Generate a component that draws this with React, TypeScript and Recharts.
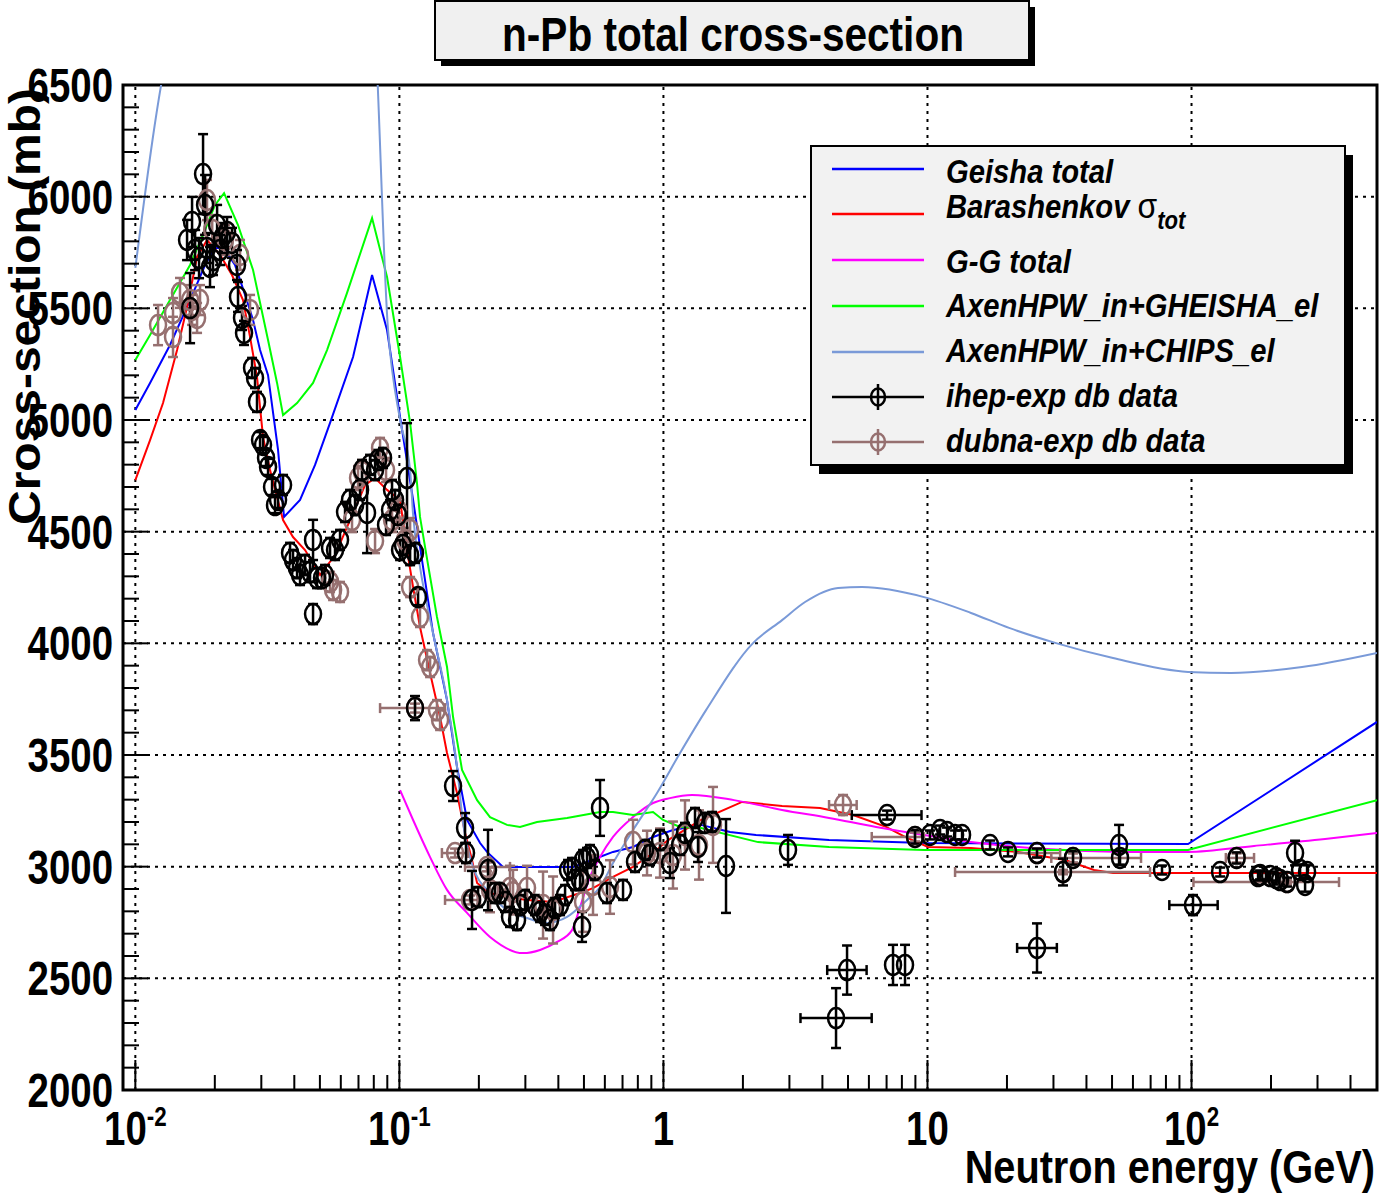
import React from 'react';
import {
  ComposedChart,
  Line,
  Scatter,
  XAxis,
  YAxis,
  ReferenceLine,
  ReferenceArea,
  ErrorBar,
} from 'recharts';

const FONT = "'Liberation Sans', Arial, Helvetica, sans-serif";

// ---------- axes ----------
const X_MIN = 0.00898;
const X_MAX = 504;
const Y_MIN = 2000;
const Y_MAX = 6500;

const xMajorTicks = [0.01, 0.1, 1, 10, 100];
const xTickLabels = [
  { base: '10', sup: '-2' },
  { base: '10', sup: '-1' },
  { base: '1', sup: '' },
  { base: '10', sup: '' },
  { base: '10', sup: '2' },
];
const xMinorTicks = [
  0.02, 0.03, 0.04, 0.05, 0.06, 0.07, 0.08, 0.09,
  0.2, 0.3, 0.4, 0.5, 0.6, 0.7, 0.8, 0.9,
  2, 3, 4, 5, 6, 7, 8, 9,
  20, 30, 40, 50, 60, 70, 80, 90,
  200, 300, 400,
];
const yMajorTicks = [2000, 2500, 3000, 3500, 4000, 4500, 5000, 5500, 6000, 6500];
const yMinorTicks = [
  2100, 2200, 2300, 2400, 2600, 2700, 2800, 2900, 3100, 3200, 3300, 3400,
  3600, 3700, 3800, 3900, 4100, 4200, 4300, 4400, 4600, 4700, 4800, 4900,
  5100, 5200, 5300, 5400, 5600, 5700, 5800, 5900, 6100, 6200, 6300, 6400,
];
const xGridValues = [0.01, 0.1, 1, 10, 100];
const yGridValues = [2500, 3000, 3500, 4000, 4500, 5000, 5500, 6000];

// ---------- model curves [E (GeV), sigma (mb)] ----------
const geishaTotal: number[][] = [
  [0.01, 5045], [0.01137, 5166], [0.01353, 5336], [0.01612, 5537], [0.01837, 5694],
  [0.02004, 5775], [0.02186, 5761], [0.02385, 5694], [0.02603, 5560], [0.02791, 5448],
  [0.02967, 5313], [0.03181, 5201], [0.03471, 4866], [0.03657, 4566], [0.04205, 4642],
  [0.04793, 4799], [0.05463, 4987], [0.06676, 5282], [0.0788, 5649], [0.0898, 5403],
  [0.1006, 5013], [0.1127, 4642], [0.1229, 4342], [0.1341, 4046], [0.1515, 3746],
  [0.1653, 3446], [0.1804, 3209], [0.2021, 3106], [0.2147, 3066], [0.2469, 2999],
  [0.4546, 2999], [0.5136, 3021], [0.5604, 3039], [0.6443, 3066], [0.7671, 3088],
  [0.9133, 3133], [1.087, 3164], [1.388, 3187], [1.787, 3155], [2.242, 3142],
  [4.239, 3119], [9.705, 3106], [97, 3101], [504, 3648],
];

const barashenkov: number[][] = [
  [0.01, 4731], [0.01137, 4910], [0.01273, 5076], [0.01439, 5313], [0.0157, 5506],
  [0.01713, 5730], [0.01868, 5806], [0.02094, 5739], [0.02323, 5649], [0.02557, 5537],
  [0.02719, 5372], [0.02889, 5193], [0.03045, 4924], [0.03237, 4776], [0.03441, 4655],
  [0.03626, 4552], [0.03955, 4476], [0.04393, 4418], [0.05006, 4306], [0.05706, 4395],
  [0.06503, 4552], [0.07413, 4709], [0.08088, 4740], [0.0898, 4687], [0.1006, 4642],
  [0.1069, 4418], [0.1127, 4252], [0.1197, 4073], [0.1307, 3867], [0.1426, 3670],
  [0.1515, 3509], [0.1653, 3330], [0.1773, 3151], [0.1884, 3030], [0.1969, 2927],
  [0.2204, 2882], [0.2556, 2864], [0.3044, 2851], [0.3819, 2842], [0.4833, 2882],
  [0.5412, 2904], [0.6443, 2954], [0.7671, 2999], [0.9133, 3061], [1.041, 3119],
  [1.388, 3209], [1.985, 3290], [2.814, 3272], [3.919, 3263], [5.226, 3231],
  [6.968, 3178], [8.222, 3133], [10.05, 3088], [14.62, 3084], [22.03, 3066],
  [33.19, 3030], [42.74, 2985], [50.44, 2972], [504, 2972],
];

const ggTotal: number[][] = [
  [0.1006, 3343], [0.1127, 3209], [0.1307, 3043], [0.1515, 2896], [0.1804, 2793],
  [0.2204, 2685], [0.294, 2613], [0.341, 2627], [0.3954, 2663], [0.4506, 2716],
  [0.4833, 2819], [0.5272, 2954], [0.5753, 3043], [0.6443, 3133], [0.7671, 3222],
  [0.9133, 3285], [1.059, 3307], [1.283, 3321], [1.851, 3298], [2.814, 3254],
  [4.239, 3218], [6.386, 3178], [9.705, 3142], [14.62, 3110], [22.03, 3088],
  [33.19, 3075], [64.41, 3066], [97, 3066], [172.5, 3093], [320.4, 3124], [504, 3151],
];

const axenGheisha: number[][] = [
  [0.01, 5269], [0.01137, 5381], [0.01353, 5537], [0.01612, 5694], [0.01837, 5851],
  [0.02004, 5963], [0.02168, 6016], [0.02448, 5873], [0.02791, 5672], [0.03181, 5358],
  [0.03441, 5166], [0.03626, 5022], [0.04097, 5076], [0.0471, 5166], [0.05321, 5313],
  [0.06335, 5569], [0.0788, 5904], [0.0898, 5640], [0.1006, 5282], [0.1098, 4987],
  [0.1166, 4718], [0.1197, 4566], [0.1288, 4342], [0.1388, 4118], [0.1515, 3894],
  [0.1597, 3670], [0.1727, 3433], [0.1969, 3298], [0.2204, 3222], [0.2556, 3187],
  [0.2864, 3178], [0.3321, 3200], [0.4315, 3218], [0.5753, 3245], [0.6443, 3245],
  [0.7671, 3231], [0.9133, 3245], [0.9966, 3209], [1.156, 3178], [1.388, 3173],
  [2.282, 3110], [4.239, 3088], [9.705, 3075], [97, 3075], [504, 3298],
];

const axenChips: number[][] = [
  [0.01, 5681], [0.0135, 6700], [0.03, 7600], [0.078, 7000], [0.0906, 5403],
  [0.1006, 5000], [0.1098, 4776], [0.1127, 4575], [0.1197, 4342], [0.1341, 4046],
  [0.1515, 3746], [0.1653, 3446], [0.1742, 3196], [0.1901, 2999], [0.2204, 2882],
  [0.2556, 2806], [0.3044, 2770], [0.3625, 2748], [0.4315, 2775], [0.5136, 2851],
  [0.5753, 2909], [0.6443, 3016], [0.7671, 3164], [0.9458, 3330], [1.156, 3509],
  [1.45, 3701], [2.184, 4001], [2.814, 4104], [3.439, 4185], [4.585, 4248],
  [5.653, 4252], [9.705, 4207], [14.62, 4136], [20.37, 4069], [30.69, 4001],
  [50.44, 3934], [97, 3872], [141.2, 3867], [262.2, 3894], [504, 3957],
];

// ---------- data [E, sigma, sigmaErr, (E err low, E err high)] ----------
const ihepData: number[][] = [
  [0.01612, 5501, 157], [0.0157, 5806, 90], [0.0164, 5887, 112], [0.01805, 6101, 179],
  [0.01837, 5963, 134], [0.01684, 5761, 90], [0.01743, 5725, 90], [0.01918, 5685, 90],
  [0.01868, 5770, 67], [0.0204, 5873, 90], [0.0213, 5815, 67], [0.02225, 5842, 67],
  [0.02323, 5793, 67], [0.02094, 5761, 67], [0.01969, 5716, 67], [0.02427, 5694, 67],
  [0.02448, 5551, 67], [0.02535, 5457, 54], [0.0258, 5390, 54], [0.02767, 5233, 45],
  [0.0284, 5188, 45], [0.02889, 5081, 45], [0.02967, 4910, 36], [0.03045, 4888, 36],
  [0.03126, 4830, 36], [0.03181, 4790, 36], [0.03294, 4700, 36], [0.03381, 4619, 36],
  [0.03626, 4709, 45], [0.03471, 4642, 36], [0.03854, 4405, 45], [0.03955, 4373, 45],
  [0.04097, 4337, 45], [0.04205, 4306, 45], [0.04393, 4351, 45], [0.04588, 4319, 45],
  [0.0471, 4463, 90], [0.0471, 4131, 45], [0.04877, 4292, 45], [0.05093, 4292, 45],
  [0.0523, 4306, 45], [0.05463, 4427, 45], [0.05706, 4418, 45], [0.0596, 4463, 45],
  [0.06226, 4588, 45], [0.06503, 4642, 45], [0.06793, 4619, 45], [0.07096, 4687, 45],
  [0.0722, 4776, 45], [0.07543, 4584, 180], [0.07743, 4799, 45], [0.08088, 4776, 45],
  [0.08302, 4821, 45], [0.08672, 4830, 45], [0.08902, 4530, 45], [0.09218, 4597, 45],
  [0.0938, 4687, 45], [0.09629, 4642, 45], [0.09884, 4575, 45], [0.1006, 4418, 45],
  [0.1032, 4440, 45], [0.1069, 4740, 246], [0.1098, 4395, 45], [0.1146, 4405, 45],
  [0.1177, 4207, 36], [0.1146, 3710, 54], [0.1597, 3361, 67], [0.1773, 3173, 67],
  [0.1788, 3061, 45], [0.1884, 2851, 130], [0.1986, 2864, 45], [0.2166, 2985, 180],
  [0.2302, 2882, 45], [0.2405, 2882, 45], [0.2512, 2842, 45], [0.2624, 2775, 45],
  [0.279, 2761, 45], [0.2864, 2828, 45], [0.2991, 2851, 45], [0.3264, 2828, 45],
  [0.341, 2797, 45], [0.3562, 2784, 45], [0.3721, 2761, 45], [0.3886, 2815, 45],
  [0.4059, 2828, 45], [0.4241, 2873, 45], [0.4352, 2985, 45], [0.4506, 2994, 45],
  [0.4627, 2940, 45], [0.4833, 2940, 45], [0.4961, 3030, 45], [0.5136, 3039, 45],
  [0.5272, 3052, 45], [0.5507, 2985, 45], [0.5753, 3263, 125], [0.4918, 2730, 67],
  [0.6114, 2882, 45], [0.7031, 2896, 45], [0.7806, 3021, 45], [0.8517, 3075, 45],
  [0.8897, 3052, 45], [0.9708, 3119, 45], [1.059, 3016, 67], [1.156, 3097, 45],
  [1.207, 3151, 45], [1.317, 3218, 45], [1.352, 3088, 67], [1.437, 3196, 45],
  [1.528, 3200, 45], [1.726, 3003, 210], [2.964, 3075, 67],
  [4.505, 2322, 134, 1.201, 1.643], [4.959, 2537, 110, 0.788, 0.922],
  [7.405, 2560, 90], [8.222, 2560, 90], [7.03, 3231, 20, 1.862, 2.462],
  [8.97, 3133, 30], [10.22, 3142, 20], [11.16, 3164, 20], [11.86, 3155, 20],
  [12.72, 3142, 20], [13.52, 3142, 20], [17.26, 3097, 20], [20.18, 3066, 20],
  [25.99, 3061, 20], [25.99, 2636, 110, 4.14, 4.91], [32.61, 2976, 60],
  [35.58, 3039, 30], [53.15, 3097, 90], [53.61, 3039, 30], [77.3, 2985, 20],
  [101.3, 2828, 45, 18.9, 24.3], [128.3, 2976, 20], [148.2, 3039, 25],
  [178.6, 2958, 20], [181.8, 2963, 20], [198.4, 2958, 20], [209.1, 2949, 20],
  [216.4, 2940, 20], [230, 2931, 20], [246.7, 3061, 55], [257.7, 2985, 25],
  [269.2, 2918, 30], [273.9, 2976, 30],
];

const dubnaData: number[][] = [
  [0.01219, 5425, 90], [0.01389, 5479, 67], [0.01389, 5372, 90], [0.01476, 5569, 67],
  [0.01612, 5537, 67], [0.0164, 5493, 67], [0.01713, 5457, 67], [0.01758, 5537, 67],
  [0.01868, 5985, 90], [0.01955, 5851, 67], [0.02186, 5806, 67], [0.02492, 5739, 67],
  [0.02719, 5493, 67], [0.05463, 4275, 45], [0.05609, 4239, 45], [0.0596, 4230, 45],
  [0.06617, 4552, 54], [0.06973, 4740, 54], [0.0722, 4767, 54], [0.08088, 4458, 54],
  [0.08449, 4875, 45], [0.08902, 4776, 54], [0.0938, 4552, 54], [0.09884, 4597, 54],
  [0.1051, 4463, 54], [0.1098, 4507, 54], [0.1098, 4252, 45], [0.1197, 4118, 45],
  [0.1273, 3925, 45], [0.1307, 3894, 45], [0.1388, 3701, 45], [0.1426, 3657, 45],
  [0.1146, 3710, 20, 0.0301, 0.0343], [0.1625, 3061, 20, 0.0176, 0.0196],
  [0.1852, 2851, 20, 0.0363, 0.0169], [0.2147, 2999, 20, 0.0374, 0.0477],
  [0.2204, 2896, 100], [0.2624, 2904, 100], [0.2694, 2886, 100], [0.3044, 2904, 100],
  [0.35, 2828, 150], [0.3819, 2806, 150], [0.4961, 2842, 134], [0.5412, 2918, 134],
  [0.6277, 2909, 120], [0.7671, 3110, 100], [0.8667, 3061, 100], [0.9708, 3061, 110],
  [1.087, 3052, 150], [1.207, 3142, 155], [1.364, 3097, 155], [1.541, 3187, 170],
  [4.789, 3276, 45, 0.55, 0.604], [8.97, 3133, 20, 2.82, 0.735],
  [25.99, 3061, 20, 4.59, 5.81], [35.58, 3039, 20, 6.14, 28.8],
  [32.61, 2976, 10, 19.89, 37.04], [230, 2931, 10, 128.3, 131.9],
  [148.2, 3039, 20, 13.3, 24.3],
];

// ---------- styles ----------
const C_GEISHA = '#0000ff';
const C_BARASH = '#ff0000';
const C_GG = '#ff00ff';
const C_AXG = '#00ff00';
const C_AXC = '#7a9ad8';
const C_IHEP = '#000000';
const C_DUBNA = '#967070';

const toCurve = (arr: number[][]) => arr.map(([x, y]) => ({ x, y }));
const toPoints = (arr: number[][]) =>
  arr.map((r) => ({
    x: r[0],
    y: r[1],
    ey: r[2],
    ex: r.length > 3 ? [r[3], r[4]] : undefined,
  }));

const curves = [
  { name: 'Geisha total', data: toCurve(geishaTotal), color: C_GEISHA, type: 'linear' },
  { name: 'Barashenkov', data: toCurve(barashenkov), color: C_BARASH, type: 'linear' },
  { name: 'G-G total', data: toCurve(ggTotal), color: C_GG, type: 'monotone' },
  { name: 'AxenHPW_in+GHEISHA_el', data: toCurve(axenGheisha), color: C_AXG, type: 'linear' },
  { name: 'AxenHPW_in+CHIPS_el', data: toCurve(axenChips), color: C_AXC, type: 'monotone' },
];

const ihepPoints = toPoints(ihepData);
const dubnaPoints = toPoints(dubnaData);

const isMajorX = (v: number) => xMajorTicks.findIndex((m) => Math.abs(m - v) / m < 1e-6);

function XTick(props: any) {
  const { x, y, payload } = props;
  const idx = isMajorX(payload.value);
  const major = idx >= 0;
  return (
    <g>
      <line x1={x} x2={x} y1={y} y2={y - (major ? 30 : 15)} stroke="#000" strokeWidth={2} />
      {major && (
        <g transform={`translate(${x},${y + 55}) scale(0.8,1)`}>
          <text textAnchor="middle" fontFamily={FONT} fontWeight="bold" fontSize={48} fill="#000">
            <tspan>{xTickLabels[idx].base}</tspan>
            {xTickLabels[idx].sup ? (
              <tspan fontSize={28} dy={-19}>
                {xTickLabels[idx].sup}
              </tspan>
            ) : null}
          </text>
        </g>
      )}
    </g>
  );
}

function YTick(props: any) {
  const { x, y, payload } = props;
  const v = payload.value;
  const major = yMajorTicks.indexOf(v) >= 0;
  return (
    <g>
      <line x1={x} x2={x + (major ? 25 : 16)} y1={y} y2={y} stroke="#000" strokeWidth={2} />
      {major && (
        <g transform={`translate(${x - 10},${y + 17}) scale(0.8,1)`}>
          <text textAnchor="end" fontFamily={FONT} fontWeight="bold" fontSize={48} fill="#000">
            {v}
          </text>
        </g>
      )}
    </g>
  );
}

const markerShape = (color: string) => (p: any) => (
  <ellipse cx={p.cx} cy={p.cy} rx={8} ry={10} fill="none" stroke={color} strokeWidth={2.5} />
);

const legendRows = [
  { label: 'Geisha total', color: C_GEISHA, marker: false, lineY: 169, textY: 183 },
  { label: 'Barashenkov ', sigma: true, color: C_BARASH, marker: false, lineY: 214, textY: 218 },
  { label: 'G-G total', color: C_GG, marker: false, lineY: 260, textY: 273 },
  { label: 'AxenHPW_in+GHEISHA_el', color: C_AXG, marker: false, lineY: 306, textY: 317 },
  { label: 'AxenHPW_in+CHIPS_el', color: C_AXC, marker: false, lineY: 352, textY: 362 },
  { label: 'ihep-exp db data', color: C_IHEP, marker: true, lineY: 397, textY: 407 },
  { label: 'dubna-exp db data', color: C_DUBNA, marker: true, lineY: 442, textY: 452 },
];

function Overlay() {
  return (
    <svg
      width={1380}
      height={1195}
      style={{ position: 'absolute', left: 0, top: 0, pointerEvents: 'none' }}
    >
      {/* title */}
      <rect x={441} y={7} width={594} height={59} fill="#000" />
      <rect x={435} y={1} width={594} height={59} fill="#f0f0f0" stroke="#000" strokeWidth={2} />
      <g transform="translate(733,51) scale(0.845,1)">
        <text textAnchor="middle" fontFamily={FONT} fontWeight="bold" fontSize={48} fill="#000">
          n-Pb total cross-section
        </text>
      </g>
      {/* axis titles */}
      <g transform="translate(40,88) rotate(-90) scale(1.09,1)">
        <text textAnchor="end" fontFamily={FONT} fontWeight="bold" fontSize={44} fill="#000">
          Cross-section (mb)
        </text>
      </g>
      <g transform="translate(1375,1183) scale(0.845,1)">
        <text textAnchor="end" fontFamily={FONT} fontWeight="bold" fontSize={47} fill="#000">
          Neutron energy (GeV)
        </text>
      </g>
      {/* legend */}
      <rect x={819} y={155} width={534} height={319} fill="#000" />
      <rect x={811} y={146} width={534} height={319} fill="#f2f2f2" stroke="#000" strokeWidth={2} />
      {legendRows.map((r, i) => (
        <g key={i}>
          <line x1={832} x2={924} y1={r.lineY} y2={r.lineY} stroke={r.color} strokeWidth={2.5} />
          {r.marker && (
            <g>
              <line x1={878} x2={878} y1={r.lineY - 13} y2={r.lineY + 13} stroke={r.color} strokeWidth={2.5} />
              <ellipse cx={878} cy={r.lineY} rx={7} ry={8.5} fill="none" stroke={r.color} strokeWidth={2.5} />
            </g>
          )}
          <g transform={`translate(946,${r.textY}) scale(0.885,1)`}>
            <text fontFamily={FONT} fontWeight="bold" fontStyle="italic" fontSize={33} fill="#000">
              <tspan>{r.label}</tspan>
              {r.sigma ? (
                <>
                  <tspan fontStyle="normal" fontWeight="normal" fontSize={36}>σ</tspan>
                  <tspan fontSize={25} dy={11}>tot</tspan>
                </>
              ) : null}
            </text>
          </g>
        </g>
      ))}
    </svg>
  );
}

export default function App() {
  return (
    <div
      style={{
        position: 'absolute',
        left: 0,
        top: 0,
        width: 1380,
        height: 1195,
        background: '#fff',
        overflow: 'hidden',
      }}
    >
      <ComposedChart
        width={1380}
        height={1195}
        margin={{ top: 85, right: 3, bottom: 0, left: 0 }}
      >
        <XAxis
          dataKey="x"
          type="number"
          scale="log"
          domain={[X_MIN, X_MAX]}
          allowDataOverflow
          ticks={[...xMajorTicks, ...xMinorTicks].sort((a, b) => a - b)}
          interval={0}
          height={105}
          axisLine={false}
          tickLine={false}
          tickSize={0}
          tickMargin={0}
          tick={XTick}
        />
        <YAxis
          dataKey="y"
          type="number"
          domain={[Y_MIN, Y_MAX]}
          allowDataOverflow
          ticks={[...yMajorTicks, ...yMinorTicks].sort((a, b) => a - b)}
          interval={0}
          width={123}
          axisLine={false}
          tickLine={false}
          tickSize={0}
          tickMargin={0}
          tick={YTick}
        />
        {xGridValues.map((v) => (
          <ReferenceLine key={'gx' + v} x={v} stroke="#000" strokeWidth={2} strokeDasharray="3 5" />
        ))}
        {yGridValues.map((v) => (
          <ReferenceLine key={'gy' + v} y={v} stroke="#000" strokeWidth={2} strokeDasharray="3 5" />
        ))}
        {curves.map((c) => (
          <Line
            key={c.name}
            data={c.data}
            dataKey="y"
            type={c.type as any}
            stroke={c.color}
            strokeWidth={2}
            dot={false}
            activeDot={false}
            isAnimationActive={false}
          />
        ))}
        <Scatter
          data={dubnaPoints}
          dataKey="y"
          fill="none"
          shape={markerShape(C_DUBNA)}
          isAnimationActive={false}
        >
          <ErrorBar dataKey="ey" direction="y" width={5} stroke={C_DUBNA} strokeWidth={2.5} isAnimationActive={false} />
          <ErrorBar dataKey="ex" direction="x" width={5} stroke={C_DUBNA} strokeWidth={2.5} isAnimationActive={false} />
        </Scatter>
        <Scatter
          data={ihepPoints}
          dataKey="y"
          fill="none"
          shape={markerShape(C_IHEP)}
          isAnimationActive={false}
        >
          <ErrorBar dataKey="ey" direction="y" width={5} stroke={C_IHEP} strokeWidth={2.5} isAnimationActive={false} />
          <ErrorBar dataKey="ex" direction="x" width={5} stroke={C_IHEP} strokeWidth={2.5} isAnimationActive={false} />
        </Scatter>
        <ReferenceArea
          x1={X_MIN}
          x2={X_MAX}
          y1={Y_MIN}
          y2={Y_MAX}
          fill="none"
          fillOpacity={0}
          stroke="#000"
          strokeWidth={3}
          ifOverflow="visible"
        />
      </ComposedChart>
      <Overlay />
    </div>
  );
}
